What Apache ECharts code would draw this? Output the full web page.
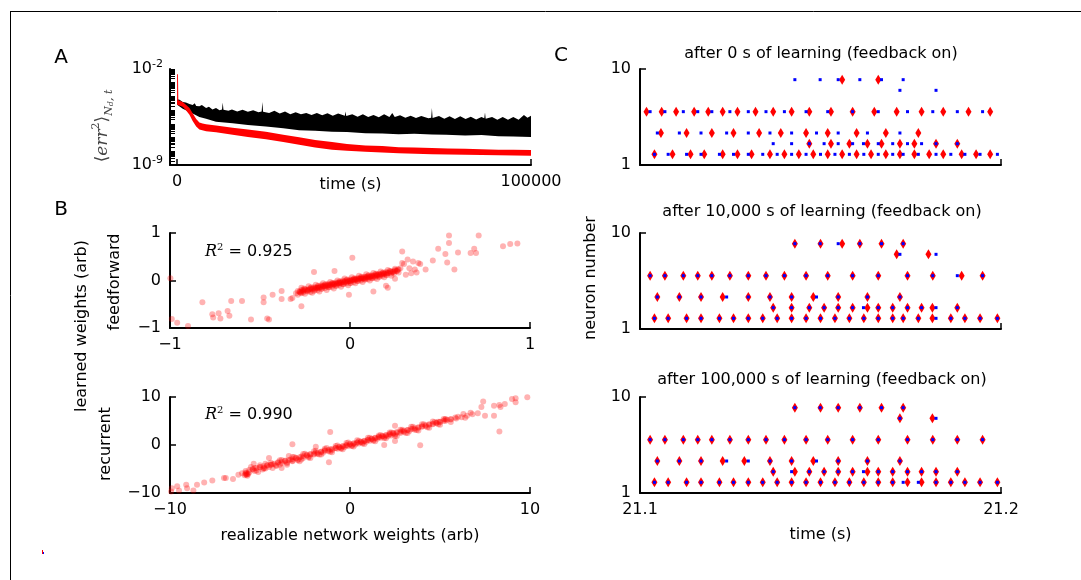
<!DOCTYPE html>
<html>
<head>
<meta charset="utf-8">
<script src="https://cdn.jsdelivr.net/npm/echarts@6/dist/echarts.min.js"></script>
<style>
  html, body { margin: 0; padding: 0; background: #fff; }
  #main { width: 1081px; height: 580px; }
</style>
</head>
<body>
<div id="main"></div>
<script>
// ---- panel A: error over training, log10 values, [time, log10(err)] envelope points
const blackUpper = [[0,-4.2],[700,-4.25],[1600,-4.4],[2500,-4.45],[3500,-4.55],[4400,-4.62],[5000,-4.5],[5400,-4.7],[6300,-4.72],[7000,-4.62],[8200,-4.85],[9000,-4.75],[10000,-4.95],[11000,-4.85],[12000,-5.0],[12700,-4.95],[12900,-4.45],[13100,-4.98],[14500,-5.05],[15500,-4.95],[17000,-5.1],[18500,-4.98],[20000,-5.12],[21500,-5.0],[23000,-5.15],[23900,-5.1],[24100,-4.4],[24300,-5.12],[26000,-5.2],[27500,-5.05],[29000,-5.25],[30500,-5.1],[32000,-5.3],[33500,-5.15],[35000,-5.3],[36500,-5.2],[38000,-5.35],[39500,-5.2],[41000,-5.38],[42500,-5.22],[44000,-5.4],[45500,-5.25],[47400,-5.4],[47600,-5.1],[47800,-5.42],[49500,-5.3],[51000,-5.48],[52500,-5.3],[54000,-5.5],[55500,-5.35],[57000,-5.52],[58500,-5.3],[60000,-5.5],[60800,-5.2],[61500,-5.5],[63000,-5.38],[64500,-5.55],[66000,-5.4],[67500,-5.58],[69000,-5.42],[71000,-5.6],[71800,-5.55],[72000,-4.85],[72200,-5.58],[74000,-5.42],[75500,-5.62],[77000,-5.45],[78500,-5.65],[80000,-5.45],[81500,-5.65],[83000,-5.48],[84500,-5.68],[86000,-5.5],[86800,-5.6],[87000,-5.17],[87200,-5.62],[89000,-5.5],[90500,-5.7],[92000,-5.5],[93500,-5.7],[95000,-5.5],[96500,-5.7],[98000,-5.35],[99000,-5.55],[100000,-5.4]];
const blackLower = [[0,-4.6],[1600,-4.9],[2500,-5.0],[4400,-5.25],[6300,-5.5],[8200,-5.62],[11000,-5.84],[15700,-5.96],[20000,-6.08],[25100,-6.2],[30000,-6.32],[34500,-6.46],[39000,-6.5],[43800,-6.58],[48000,-6.6],[53200,-6.68],[58000,-6.7],[62600,-6.75],[67000,-6.72],[72000,-6.78],[76000,-6.8],[81400,-6.85],[86000,-6.82],[90800,-6.9],[95000,-6.92],[100000,-6.95]];
const redUpper = [[0,-2.37],[250,-2.4],[350,-4.28],[1600,-4.4],[2500,-4.6],[3500,-4.85],[4400,-5.22],[5400,-5.65],[6300,-5.9],[7200,-5.98],[8200,-6.03],[11000,-6.12],[15700,-6.28],[20000,-6.42],[25100,-6.58],[30000,-6.8],[34500,-6.98],[39000,-7.17],[43800,-7.32],[48000,-7.47],[53200,-7.57],[58000,-7.62],[62600,-7.7],[67000,-7.72],[72000,-7.76],[76500,-7.8],[81400,-7.82],[86000,-7.85],[90800,-7.88],[95000,-7.89],[100000,-7.9]];
const redLower = [[0,-4.6],[1600,-4.75],[2500,-5.0],[3500,-5.34],[4400,-5.8],[5400,-6.2],[6300,-6.42],[8200,-6.54],[11000,-6.62],[15700,-6.8],[20000,-6.95],[25100,-7.12],[30000,-7.32],[34500,-7.52],[39000,-7.72],[43800,-7.88],[48000,-7.97],[53200,-8.04],[62600,-8.15],[72000,-8.22],[81400,-8.26],[90800,-8.29],[100000,-8.33]];

// ---- panel B: [realizable weight, learned weight]
const feedforwardPoints = [
  [-0.998,0.05],[-0.99,-0.81],[-0.96,-0.89],[-0.9,-0.96],[-0.82,-0.46],[-0.765,-0.71],[-0.73,-0.69],[-0.76,-0.78],[-0.72,-0.8],[-0.68,-0.64],[-0.67,-0.74],[-0.66,-0.43],[-0.6,-0.43],[-0.55,-0.82],[-0.46,-0.8],[-0.45,-0.82],[-0.48,-0.36],[-0.48,-0.46],[-0.43,-0.3],[-0.38,-0.22],[-0.38,-0.39],[-0.33,-0.39],[-0.32,-0.37],[-0.27,-0.54],[-0.27,-0.27],[-0.26,-0.2],[-0.2,0.18],[-0.086,0.2],[0.013,0.48],[-0.006,-0.3],[0.13,-0.23],[0.2,-0.11],[0.21,-0.15],[0.25,0.035],[0.29,0.61],[0.29,0.37],[0.3,0.35],[0.32,0.44],[0.33,0.26],[0.35,0.4],[0.36,0.23],[0.37,0.17],[0.38,0.37],[0.39,0.35],[0.31,0.12],[0.34,0.155],[0.42,0.23],[0.46,0.42],[0.49,0.67],[0.53,0.56],[0.54,0.38],[0.55,0.95],[0.55,0.79],[0.58,0.23],[0.6,0.59],[0.67,0.58],[0.69,0.67],[0.7,0.58],[0.715,0.95],[0.85,0.72],[0.89,0.77],[0.93,0.78],
  [-0.3,-0.27],[-0.29,-0.22],[-0.28,-0.24],[-0.27,-0.2],[-0.26,-0.25],[-0.25,-0.18],[-0.24,-0.22],[-0.23,-0.2],[-0.22,-0.16],[-0.22,-0.24],[-0.21,-0.19],[-0.2,-0.14],[-0.2,-0.22],[-0.19,-0.17],[-0.18,-0.12],[-0.18,-0.2],[-0.17,-0.15],[-0.16,-0.1],[-0.16,-0.18],[-0.15,-0.13],[-0.14,-0.16],[-0.14,-0.09],[-0.13,-0.12],[-0.12,-0.14],[-0.12,-0.07],[-0.11,-0.1],[-0.1,-0.13],[-0.1,-0.06],[-0.09,-0.09],[-0.08,-0.04],[-0.08,-0.11],[-0.07,-0.07],[-0.06,-0.02],[-0.06,-0.09],[-0.05,-0.05],[-0.04,-0.08],[-0.04,0],[-0.03,-0.04],[-0.02,-0.06],[-0.02,0.01],[-0.01,-0.02],[0,0.02],[0,-0.05],[0.01,0],[0.02,0.03],[0.02,-0.03],[0.03,0.01],[0.04,0.05],[0.04,-0.01],[0.05,0.03],[0.06,0.07],[0.06,0],[0.07,0.04],[0.08,0.08],[0.08,0.02],[0.09,0.05],[0.1,0.1],[0.1,0.03],[0.11,0.07],[0.12,0.11],[0.12,0.05],[0.13,0.08],[0.14,0.13],[0.14,0.06],[0.15,0.1],[0.16,0.14],[0.16,0.08],[0.17,0.12],[0.18,0.16],[0.18,0.1],[0.19,0.14],[0.2,0.18],[0.2,0.12],[0.21,0.16],[0.22,0.2],[0.23,0.15],[0.24,0.19],[0.25,0.22],[0.26,0.2],[0.27,0.23],
  [-0.29,-0.3],[-0.27,-0.15],[-0.25,-0.28],[-0.23,-0.12],[-0.21,-0.26],[-0.19,-0.09],[-0.17,-0.23],[-0.15,-0.06],[-0.13,-0.2],[-0.11,-0.03],[-0.09,-0.17],[-0.07,0.0],[-0.05,-0.13],[-0.03,0.04],[-0.01,-0.1],[0.01,0.07],[0.03,-0.06],[0.05,0.1],[0.07,-0.03],[0.09,0.13],[0.11,0.0],[0.13,0.16],[0.15,0.03],[0.17,0.19],[0.19,0.07],[0.21,0.22],[0.23,0.1],[0.25,0.25],[0.27,0.17],[0.28,0.26],
  [-0.06,-0.05],[-0.03,-0.01],[0.0,-0.01],[0.03,0.03],[0.06,0.04],[0.09,0.08],[0.12,0.09],[0.15,0.12],[-0.09,-0.07],[-0.12,-0.1],[-0.15,-0.11],[-0.18,-0.15],
  [-0.28,-0.23],[-0.27,-0.23],[-0.26,-0.22],[-0.25,-0.2],[-0.24,-0.2],[-0.23,-0.19],[-0.22,-0.18],[-0.21,-0.17],[-0.2,-0.17],[-0.19,-0.15],[-0.18,-0.15],[-0.17,-0.14],[-0.16,-0.13],[-0.15,-0.12],[-0.14,-0.12],[-0.13,-0.1],[-0.12,-0.1],[-0.11,-0.09],[-0.1,-0.08],[-0.09,-0.08],[-0.08,-0.07],[-0.07,-0.05],[-0.06,-0.05],[-0.05,-0.04],[-0.04,-0.03],[-0.03,-0.03],[-0.02,-0.02],[-0.01,-0.01],[0,-0.01],[0.01,0.01],[0.02,0.01],[0.03,0.02],[0.04,0.02],[0.05,0.04],[0.06,0.04],[0.07,0.05],[0.08,0.05],[0.09,0.07],[0.1,0.07],[0.11,0.08],[0.12,0.09],[0.13,0.1],[0.14,0.1],[0.15,0.11],[0.16,0.12],[0.17,0.13],[0.18,0.13],[0.19,0.15],[0.2,0.15],[0.21,0.16],[0.22,0.17],[0.23,0.18],[0.24,0.18],[0.25,0.2],[0.26,0.2],
  [-0.275,-0.26],[-0.255,-0.17],[-0.235,-0.23],[-0.215,-0.14],[-0.195,-0.2],[-0.175,-0.11],[-0.155,-0.17],[-0.135,-0.08],[-0.115,-0.14],[-0.095,-0.05],[-0.075,-0.11],[-0.055,-0.02],[-0.035,-0.08],[-0.015,0.02],[0.005,-0.05],[0.025,0.05],[0.045,-0.01],[0.065,0.08],[0.085,0.02],[0.105,0.11],[0.125,0.05],[0.145,0.14],[0.165,0.08],[0.185,0.17],[0.205,0.11],[0.225,0.2],[0.245,0.15],[0.265,0.23]
];
const recurrentPoints = [
  [-9.9,-9.0],[-9.94,-9.7],[-9.5,-9.5],[-9.6,-8.6],[-9.1,-8.3],[-9.05,-9.0],[-8.7,-9.5],[-8.5,-8.3],[-8.1,-7.8],[-7.65,-7.4],[-7.0,-6.9],[-6.9,-6.9],[-6.5,-7.1],[-6.2,-6.2],[-5.8,-5.8],[-5.7,-6.4],[-5.75,-6.2],[-5.65,-6.0],[-5.35,-3.9],[-5.3,-4.8],[-4.86,-5.1],[-4.77,-4.8],[-4.5,-2.7],[-4.4,-4.1],[-3.9,-4.1],[-3.8,-4.8],[-3.4,-2.3],[-3.2,0.14],[-3.2,-3.4],[-2.7,-3.0],[-1.9,-0.35],[-1.17,-3.6],[-1.1,2.7],[2.5,4.0],[1.9,0],[2.5,0.84],[3.9,-0.07],[7.4,9.05],[7.3,7.9],[7.5,6.1],[8.0,6.1],[8.3,2.8],[8.36,7.9],[9.0,9.6],[9.2,8.9],[9.2,9.75],[9.85,9.96],[8.0,8.2],[8.3,8.35],[8.6,8.55],[6.7,6.7],[6.3,6.45],[5.85,5.75],[5.3,5.4],[4.9,4.85],
  [-5.8,-6.1],[-5.75,-5.9],[-5.85,-6.3],[-5.7,-6.1],
  [-6,-5.9],[-5.8,-5.4],[-5.6,-5.7],[-5.4,-5.1],[-5.2,-5.3],[-5,-4.6],[-4.8,-4.9],[-4.6,-4.2],[-4.5,-4.6],[-4.3,-4],[-4.1,-4.2],[-4,-3.6],[-3.8,-3.8],[-3.6,-3.3],[-3.5,-3.6],[-3.3,-3],[-3.2,-3.3],[-3,-2.7],[-2.9,-3],[-2.7,-2.4],[-2.6,-2.7],[-2.4,-2.1],[-2.3,-2.4],[-2.2,-1.9],[-2,-2],[-1.9,-1.6],[-1.8,-1.9],[-1.6,-1.4],[-1.5,-1.6],[-1.4,-1.1],[-1.2,-1.3],[-1.1,-0.9],[-1,-1.1],[-0.8,-0.6],[-0.7,-0.8],[-0.6,-0.4],[-0.5,-0.6],[-0.4,-0.2],[-0.3,-0.4],[-0.2,0],[-0.1,-0.2],[0,0.2],[0.1,-0.1],[0.2,0.3],[0.3,0.1],[0.4,0.5],[0.5,0.3],[0.6,0.7],[0.7,0.5],[0.8,0.9],[0.9,0.7],[1,1.1],[1.1,0.9],[1.2,1.3],[1.3,1.1],[1.4,1.5],[1.5,1.3],[1.6,1.7],[1.7,1.5],[1.8,1.9],[1.9,1.7],[2,2.1],[2.1,1.8],[2.2,2.3],[2.3,2],[2.4,2.5],[2.5,2.2],[2.6,2.7],[2.8,2.5],[2.9,2.9],[3,2.7],[3.2,3.1],[3.3,2.9],[3.5,3.4],[3.6,3.2],[3.8,3.6],[4,3.8],[4.2,3.9],[4.4,4.2],[4.6,4.3],[4.8,4.6],[5,4.8],[5.3,5],[5.6,5.3],[5.9,5.5],[6.2,5.8],[6.5,6.1],[6.8,6.4],[7.1,6.6],
  [-5.5,-4.6],[-5.1,-5.6],[-4.7,-3.9],[-4.3,-4.8],[-3.9,-3.2],[-3.5,-4.1],[-3.1,-2.5],[-2.8,-3.4],[-2.5,-1.8],[-2.2,-2.7],[-1.9,-1.2],[-1.6,-2.0],[-1.3,-0.6],[-1.0,-1.5],[-0.7,-0.1],[-0.4,-0.9],[-0.1,0.5],[0.2,-0.3],[0.5,0.9],[0.8,0.2],[1.1,1.5],[1.4,0.8],[1.7,2.1],[2.0,1.4],[2.3,2.6],[2.6,1.9],[2.9,3.2],[3.2,2.5],[3.5,3.8],[3.8,3.0],[4.1,4.3],[4.4,3.6],[4.7,4.8],[5.0,4.2],[5.3,5.3],[5.6,4.8],[6.0,5.9],[6.4,5.7],
  [-5.6,-5.2],[-5.4,-5.0],[-5.2,-4.8],[-5.0,-4.65],[-4.8,-4.45],[-4.6,-4.25],[-4.4,-4.1],[-4.2,-3.9],[-4.0,-3.7],[-3.8,-3.5],[-3.6,-3.3],[-3.4,-3.1],[-3.2,-2.95],[-3.0,-2.75],[-2.8,-2.55],[-2.6,-2.35],[-2.4,-2.2],[-2.2,-2.0],[-2.0,-1.8],[-1.8,-1.6],[-1.6,-1.4],[-1.4,-1.2],[-1.2,-1.05],[-1.0,-0.85],[-0.8,-0.65],[-0.6,-0.45],[-0.4,-0.3],[-0.2,-0.1],[0,0.1],[0.2,0.3],[0.4,0.5],[0.6,0.65],[0.8,0.85],[1.0,1.05],[1.2,1.25],[1.4,1.45],[1.6,1.6],[1.8,1.8],[2.0,2.0],[2.2,2.2],[2.4,2.4],[2.6,2.55],[2.8,2.75],[3.0,2.95],[3.2,3.15],[3.4,3.35],[3.6,3.5],[3.8,3.7],[4.0,3.9],[4.2,4.1],[4.4,4.3],[4.6,4.45],[4.8,4.65],[5.0,4.85],[5.2,5.05],[5.4,5.25],[5.6,5.4],
  [-5.3,-5.4],[-5.0,-4.2],[-4.7,-4.9],[-4.4,-3.7],[-4.1,-4.4],[-3.8,-3.1],[-3.5,-3.8],[-3.2,-2.5],[-2.9,-3.2],[-2.6,-1.9],[-2.3,-2.6],[-2.0,-1.3],[-1.7,-2.0],[-1.4,-0.8],[-1.1,-1.4],[-0.8,-0.2],[-0.5,-0.8],[-0.2,0.4],[0.1,-0.2],[0.4,1.0],[0.7,0.3],[1.0,1.5],[1.3,0.9],[1.6,2.0],[1.9,1.4],[2.2,2.6],[2.5,1.9],[2.8,3.2],[3.1,2.5],[3.4,3.8],[3.7,3.1],[4.0,4.3],[4.3,3.7],[4.6,4.9],[4.9,4.3],[5.2,5.4]
];

// ---- panel C: spike times (s) per neuron row
const neuronRows = [9, 8, 6, 4, 3, 2];
const targetSpikes = [
  [21.1429,21.1499,21.1549,21.1609,21.1669,21.1729],
  [21.1720,21.1820],
  [21.1028,21.1069,21.1120,21.1160,21.1199,21.1249,21.1300,21.1349,21.1400,21.1460,21.1520,21.1589,21.1660,21.1741,21.1811,21.1879,21.1949],
  [21.1048,21.1109,21.1169,21.1240,21.1300,21.1360,21.1420,21.1489,21.1549,21.1630,21.1720],
  [21.1369,21.1420,21.1469,21.1510,21.1549,21.1589,21.1619,21.1660,21.1700,21.1741,21.1780,21.1820,21.1879],
  [21.1040,21.1078,21.1129,21.1169,21.1220,21.1259,21.1300,21.1340,21.1380,21.1420,21.1460,21.1500,21.1540,21.1580,21.1620,21.1660,21.1700,21.1729,21.1771,21.1820,21.1861,21.1900,21.1942,21.1990]
];
const spikesAfter0 = [
  [21.1560,21.1660],
  [],
  [21.1018,21.1060,21.1100,21.1150,21.1189,21.1229,21.1270,21.1320,21.1369,21.1420,21.1469,21.1529,21.1589,21.1649,21.1711,21.1780,21.1840,21.1910,21.1970],
  [21.1058,21.1129,21.1199,21.1259,21.1330,21.1390,21.1460,21.1520,21.1600,21.1681,21.1771],
  [21.1469,21.1529,21.1580,21.1630,21.1669,21.1720,21.1760,21.1820,21.1879],
  [21.1040,21.1090,21.1140,21.1178,21.1229,21.1270,21.1309,21.1360,21.1400,21.1440,21.1480,21.1520,21.1560,21.1600,21.1640,21.1681,21.1720,21.1760,21.1801,21.1840,21.1891,21.1931,21.1970]
];
const spikesAfter10k = [
  [21.1429,21.1500,21.1560,21.1609,21.1669,21.1729],
  [21.1711,21.1799],
  [21.1028,21.1069,21.1120,21.1160,21.1199,21.1249,21.1300,21.1349,21.1400,21.1460,21.1520,21.1589,21.1660,21.1741,21.1811,21.1891,21.1949],
  [21.1048,21.1109,21.1169,21.1229,21.1300,21.1360,21.1420,21.1480,21.1549,21.1630,21.1720],
  [21.1369,21.1420,21.1469,21.1510,21.1549,21.1589,21.1630,21.1660,21.1700,21.1741,21.1780,21.1810,21.1879],
  [21.1040,21.1078,21.1129,21.1169,21.1220,21.1259,21.1300,21.1340,21.1380,21.1420,21.1460,21.1500,21.1540,21.1580,21.1620,21.1660,21.1700,21.1729,21.1771,21.1810,21.1861,21.1900,21.1942,21.1990]
];
const spikesAfter100k = [
  [21.1429,21.1500,21.1549,21.1609,21.1669,21.1729],
  [21.1720,21.1810],
  [21.1028,21.1069,21.1120,21.1160,21.1199,21.1249,21.1300,21.1349,21.1400,21.1460,21.1520,21.1589,21.1660,21.1741,21.1811,21.1879,21.1949],
  [21.1048,21.1109,21.1169,21.1229,21.1289,21.1360,21.1420,21.1480,21.1549,21.1630,21.1720],
  [21.1369,21.1429,21.1469,21.1510,21.1549,21.1589,21.1630,21.1660,21.1700,21.1741,21.1780,21.1820,21.1879],
  [21.1040,21.1078,21.1129,21.1169,21.1220,21.1259,21.1300,21.1340,21.1380,21.1420,21.1460,21.1500,21.1540,21.1580,21.1620,21.1660,21.1700,21.1741,21.1780,21.1820,21.1861,21.1900,21.1942,21.1990]
];
const rasterTitles = [
  "after 0 s of learning (feedback on)",
  "after 10,000 s of learning (feedback on)",
  "after 100,000 s of learning (feedback on)"
];

const FONT = "'DejaVu Sans', sans-serif";
const LINE = { show: true, onZero: false, lineStyle: { color: "#000", width: 2 } };
const TICK = { show: true, inside: true, length: 6, lineStyle: { color: "#000", width: 1.5 } };
const LABEL = { color: "#000", fontSize: 16, fontFamily: FONT, margin: 9 };
const NAME = { color: "#000", fontSize: 16, fontFamily: FONT };
const minus = (v) => String(v).replace("-", "\u2212");

function toPoints(rows) {
  const out = [];
  rows.forEach((times, i) => times.forEach((t) => out.push([t, neuronRows[i]])));
  return out;
}

function band(hi, lo, color) {
  return {
    type: "custom", xAxisIndex: 0, yAxisIndex: 0, silent: true,
    data: [[50000, -5]],
    renderItem: (params, api) => {
      const pts = hi.map((p) => api.coord(p)).concat(lo.slice().reverse().map((p) => api.coord(p)));
      return { type: "polygon", shape: { points: pts }, style: { fill: color } };
    },
  };
}

// log minor ticks for panel A
const logTicks = [];
for (let e = -9; e < -2; e++) for (let k = 1; k < 10; k++) logTicks.push(e + Math.log10(k));
logTicks.push(-2);

let chart = echarts.init(document.getElementById("main"));

const grids = [
  { left: 170, top: 69, width: 361, height: 96 },
  { left: 170, top: 233, width: 360, height: 95 },
  { left: 170, top: 397, width: 360, height: 96 },
  { left: 640, top: 69, width: 361, height: 96 },
  { left: 640, top: 233, width: 361, height: 96 },
  { left: 640, top: 397, width: 361, height: 96 },
];

const xAxes = [
  {
    gridIndex: 0, type: "value", min: -2000, max: 100000, splitLine: { show: false },
    axisLine: LINE, axisTick: { ...TICK, customValues: [0, 100000] },
    axisLabel: { ...LABEL, customValues: [0, 100000], formatter: (v) => String(v) },
    name: "time (s)", nameLocation: "middle", nameGap: 12, nameMoveOverlap: false, nameTextStyle: NAME,
  },
  {
    gridIndex: 1, type: "value", min: -1, max: 1, interval: 1, splitLine: { show: false },
    axisLine: LINE, axisTick: TICK, axisLabel: { ...LABEL, formatter: minus },
  },
  {
    gridIndex: 2, type: "value", min: -10, max: 10, interval: 10, splitLine: { show: false },
    axisLine: LINE, axisTick: TICK, axisLabel: { ...LABEL, formatter: minus },
    name: "realizable network weights (arb)", nameLocation: "middle", nameGap: 35, nameMoveOverlap: false, nameTextStyle: NAME,
  },
];
const yAxes = [
  {
    gridIndex: 0, type: "value", min: -9, max: -2, splitLine: { show: false },
    axisLine: LINE, axisTick: { ...TICK, length: 5, lineStyle: { color: "#000", width: 1 }, customValues: logTicks },
    axisLabel: {
      ...LABEL, customValues: [-9, -2], margin: 7,
      formatter: (v) => "{b|10}{s|" + Math.round(v) + "}",
      rich: {
        b: { fontSize: 16, fontFamily: FONT, color: "#000", lineHeight: 20 },
        s: { fontSize: 11, fontFamily: FONT, color: "#000", verticalAlign: "top", lineHeight: 12 },
      },
    },
  },
  {
    gridIndex: 1, type: "value", min: -1, max: 1, interval: 1, splitLine: { show: false },
    axisLine: LINE, axisTick: TICK, axisLabel: { ...LABEL, formatter: minus },
  },
  {
    gridIndex: 2, type: "value", min: -10, max: 10, interval: 10, splitLine: { show: false },
    axisLine: LINE, axisTick: TICK, axisLabel: { ...LABEL, formatter: minus },
  },
];
for (let p = 0; p < 3; p++) {
  xAxes.push({
    gridIndex: 3 + p, type: "value", min: 21.1, max: 21.2, interval: 0.1, splitLine: { show: false },
    axisLine: LINE, axisTick: TICK,
    axisLabel: { ...LABEL, show: p === 2, formatter: (v) => v.toFixed(1) },
    name: p === 2 ? "time (s)" : "", nameLocation: "middle", nameGap: 34, nameMoveOverlap: false, nameTextStyle: NAME,
  });
  yAxes.push({
    gridIndex: 3 + p, type: "value", min: 1, max: 10, interval: 9, splitLine: { show: false },
    axisLine: LINE, axisTick: TICK, axisLabel: LABEL,
  });
}

const series = [
  band(blackUpper, blackLower, "#000000"),
  band(redUpper, redLower, "#ff0000"),
  {
    type: "scatter", xAxisIndex: 1, yAxisIndex: 1, data: feedforwardPoints,
    symbolSize: 6, itemStyle: { color: "#ff0000", opacity: 0.3 }, silent: true,
  },
  {
    type: "scatter", xAxisIndex: 2, yAxisIndex: 2, data: recurrentPoints,
    symbolSize: 6, itemStyle: { color: "#ff0000", opacity: 0.3 }, silent: true,
  },
];
[spikesAfter0, spikesAfter10k, spikesAfter100k].forEach((rows, p) => {
  series.push({
    type: "scatter", xAxisIndex: 3 + p, yAxisIndex: 3 + p, data: toPoints(rows),
    symbol: "diamond", symbolSize: [6, 10], itemStyle: { color: "#ff0000", opacity: 1 }, silent: true,
  });
  series.push({
    type: "scatter", xAxisIndex: 3 + p, yAxisIndex: 3 + p, data: toPoints(targetSpikes),
    symbol: "rect", symbolSize: 3, itemStyle: { color: "#0000ff", opacity: 1 }, silent: true,
  });
});

const txt = (x, y, text, size, extra) => ({
  type: "text", x, y, ...extra,
  style: { text, fontSize: size, fontFamily: FONT, fill: "#000", align: "center", verticalAlign: "middle" },
});
const rText = (x, y, value) => ({
  type: "text", x, y,
  style: {
    text: "{r|R}{s|2}{n| = " + value + "}", align: "left", verticalAlign: "middle",
    rich: {
      r: { fontSize: 16, fontFamily: "'DejaVu Serif', serif", fontStyle: "italic", fill: "#000", lineHeight: 20 },
      s: { fontSize: 10, fontFamily: "'DejaVu Serif', serif", fill: "#000", verticalAlign: "top", lineHeight: 12 },
      n: { fontSize: 16, fontFamily: FONT, fill: "#000", lineHeight: 20 },
    },
  },
});

const graphic = [
  { type: "line", shape: { x1: 10, y1: 11.5, x2: 1081, y2: 11.5 }, style: { stroke: "#000", lineWidth: 1 } },
  { type: "line", shape: { x1: 10.5, y1: 11, x2: 10.5, y2: 580 }, style: { stroke: "#000", lineWidth: 1 } },
  { type: "rect", shape: { x: 42, y: 550, width: 1, height: 4 }, style: { fill: "#ff0000" } },
  { type: "rect", shape: { x: 43, y: 552, width: 1, height: 2 }, style: { fill: "#0000ff" } },
  txt(61, 58, "A", 20),
  txt(61, 210, "B", 20),
  txt(561, 56, "C", 20),
  {
    type: "text", x: 103, y: 126, rotation: Math.PI / 2,
    style: {
      text: "{a|\u27E8}{i|err}{s|2}{a|\u27E9}{u|N}{v|d}{u|, t}", align: "center", verticalAlign: "middle",
      rich: {
        a: { fontSize: 17, fontFamily: "'DejaVu Serif', serif", fill: "#444", lineHeight: 24 },
        i: { fontSize: 17, fontFamily: "'DejaVu Serif', serif", fontStyle: "italic", fill: "#444", lineHeight: 24 },
        s: { fontSize: 11, fontFamily: "'DejaVu Serif', serif", fill: "#444", verticalAlign: "top", lineHeight: 13 },
        u: { fontSize: 11, fontFamily: "'DejaVu Serif', serif", fontStyle: "italic", fill: "#444", verticalAlign: "bottom", lineHeight: 13 },
        v: { fontSize: 8, fontFamily: "'DejaVu Serif', serif", fontStyle: "italic", fill: "#444", verticalAlign: "bottom", lineHeight: 8 },
      },
    },
  },
  txt(82, 326, "learned weights (arb)", 16, { rotation: Math.PI / 2 }),
  txt(115, 282, "feedforward", 16, { rotation: Math.PI / 2 }),
  txt(106, 444, "recurrent", 16, { rotation: Math.PI / 2 }),
  txt(591, 278, "neuron number", 16, { rotation: Math.PI / 2 }),
  rText(205, 252, "0.925"),
  rText(205, 415, "0.990"),
  txt(821, 54, rasterTitles[0], 16),
  txt(822, 212, rasterTitles[1], 16),
  txt(822, 380, rasterTitles[2], 16),
];

chart.setOption({
  animation: false,
  backgroundColor: "#fff",
  grid: grids,
  xAxis: xAxes,
  yAxis: yAxes,
  series: series,
  graphic: graphic,
});
</script>
</body>
</html>
